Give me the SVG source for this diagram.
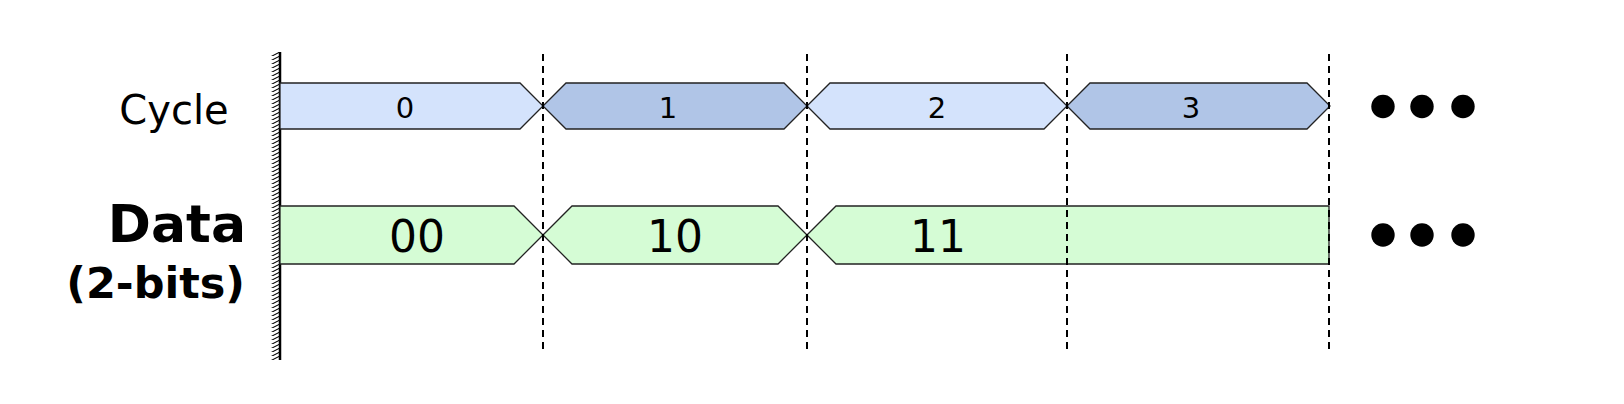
<svg xmlns="http://www.w3.org/2000/svg" width="1624" height="404" viewBox="0 0 1624 404">
<style>
.lbl{font-family:"DejaVu Sans","Liberation Sans",sans-serif;fill:#000}
.cyc{font-size:29px;text-anchor:middle}
.dat{font-size:44px;text-anchor:middle}
.box{stroke:#222;stroke-width:1.3;stroke-linejoin:miter}
.c0{fill:#d4e3fc}
.c1{fill:#b0c5e7}
.g{fill:#d5fcd5}
.dash{stroke:#000;stroke-width:2;stroke-dasharray:7 5;fill:none}
.dot{fill:#000}
</style>
<defs>
<pattern id="hatch" x="271" y="52" width="9" height="4" patternUnits="userSpaceOnUse">
<path d="M0,4.5 L9,0" stroke="#000" stroke-width="1.1"/>
</pattern>
</defs>
<rect width="1624" height="404" fill="#fff"/>
<g id="row-labels">
<text class="lbl" x="174" y="123.5" font-size="40" text-anchor="middle">Cycle</text>
<text class="lbl" x="246" y="242" font-size="52" font-weight="bold" text-anchor="end">Data</text>
<text class="lbl" x="245" y="298" font-size="43" font-weight="bold" text-anchor="end">(2-bits)</text>
</g>
<g id="wall">
<rect x="271" y="52" width="9" height="308" fill="url(#hatch)"/>
<line x1="280" y1="52" x2="280" y2="360" stroke="#000" stroke-width="2.5"/>
</g>
<g id="cycle-0">
<path class="box c0" d="M280,83 H520 L543,106 L520,129 H280 Z"/>
<text class="lbl cyc" x="405" y="117.5">0</text>
</g>
<g id="cycle-1">
<path class="box c1" d="M543,106 L566,83 H784 L807,106 L784,129 H566 Z"/>
<text class="lbl cyc" x="668" y="117.5">1</text>
</g>
<g id="cycle-2">
<path class="box c0" d="M807,106 L830,83 H1044 L1067,106 L1044,129 H830 Z"/>
<text class="lbl cyc" x="937" y="117.5">2</text>
</g>
<g id="cycle-3">
<path class="box c1" d="M1067,106 L1090,83 H1307 L1330,106 L1307,129 H1090 Z"/>
<text class="lbl cyc" x="1191" y="117.5">3</text>
</g>
<g id="data-00">
<path class="box g" d="M280,206 H514 L543,235 L514,264 H280 Z"/>
<text class="lbl dat" x="417" y="251.5">00</text>
</g>
<g id="data-10">
<path class="box g" d="M543,235 L572,206 H778 L807,235 L778,264 H572 Z"/>
<text class="lbl dat" x="675" y="251.5">10</text>
</g>
<g id="data-11">
<path class="box g" d="M807,235 L836,206 H1329 V264 H836 Z"/>
<text class="lbl dat" x="938" y="251.5">11</text>
</g>
<g id="connectors">
<line class="dash" x1="543" y1="54" x2="543" y2="349"/>
<line class="dash" x1="807" y1="54" x2="807" y2="349"/>
<line class="dash" x1="1067" y1="54" x2="1067" y2="349"/>
<line class="dash" x1="1329" y1="54" x2="1329" y2="349"/>
</g>
<g id="ellipsis-cycle">
<circle class="dot" cx="1383" cy="106.5" r="11.7"/>
<circle class="dot" cx="1422" cy="106.5" r="11.7"/>
<circle class="dot" cx="1463" cy="106.5" r="11.7"/>
</g>
<g id="ellipsis-data">
<circle class="dot" cx="1383" cy="235" r="11.7"/>
<circle class="dot" cx="1422" cy="235" r="11.7"/>
<circle class="dot" cx="1463" cy="235" r="11.7"/>
</g>
</svg>
